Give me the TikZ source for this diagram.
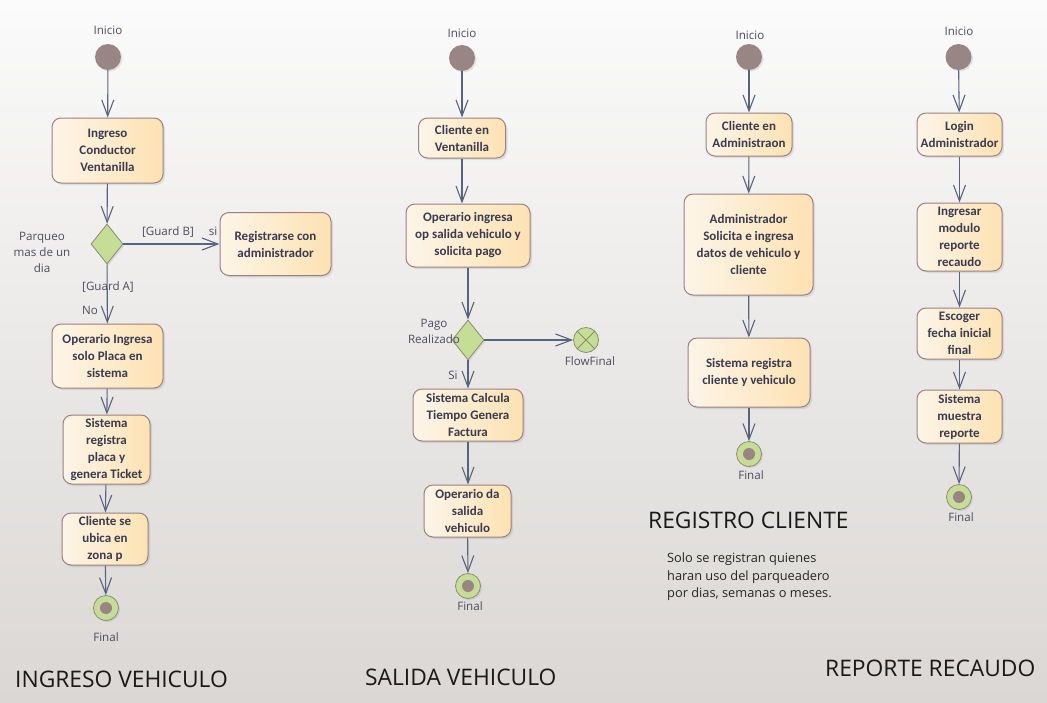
\documentclass[tikz,border=0pt]{standalone}
\usepackage{fontspec}
\setmainfont{Carlito}
\newfontfamily\lblfont{Open Sans}
\usetikzlibrary{arrows.meta,shapes.geometric,shadows}
\definecolor{bgtop}{HTML}{FBFBFB}
\definecolor{bgbot}{HTML}{DAD7D4}
\definecolor{edgec}{HTML}{56647F}
\definecolor{boxb}{HTML}{9C8080}
\definecolor{boxl}{HTML}{FDF5E8}
\definecolor{boxr}{HTML}{FDE2B2}
\definecolor{txtc}{HTML}{3A3A50}
\definecolor{lblc}{HTML}{4C4C60}
\definecolor{initc}{HTML}{9A8585}
\definecolor{greenc}{HTML}{C6DD98}
\definecolor{greenb}{HTML}{8C8C72}
\tikzset{
  act/.style={draw=boxb, line width=1pt, rounded corners=9pt, left color=boxl, right color=boxr,
    font=\fontsize{13}{17}\selectfont\bfseries, text=txtc, align=center, inner sep=0pt,
    drop shadow={shadow xshift=2pt, shadow yshift=-2pt, opacity=0.18}},
  initn/.style={circle, fill=initc, minimum size=26pt, inner sep=0pt,
    drop shadow={shadow xshift=1.5pt, shadow yshift=-1.5pt, opacity=0.18}},
  finn/.style={circle, draw=greenb, line width=0.8pt, fill=greenc, minimum size=25pt, inner sep=0pt,
    path picture={\fill[initc] (path picture bounding box.center) circle (6pt);},
    drop shadow={shadow xshift=1.5pt, shadow yshift=-1.5pt, opacity=0.18}},
  flowfin/.style={circle, draw=greenb, line width=0.8pt, fill=greenc, minimum size=25pt, inner sep=0pt,
    path picture={\draw[greenb, line width=0.9pt]
      (path picture bounding box.north west) -- (path picture bounding box.south east)
      (path picture bounding box.north east) -- (path picture bounding box.south west);}},
  decn/.style={diamond, draw=greenb, line width=0.8pt, fill=greenc, minimum width=32pt,
    minimum height=40pt, inner sep=0pt, shape aspect=0.8,
    drop shadow={shadow xshift=1.5pt, shadow yshift=-1.5pt, opacity=0.18}},
  flow/.style={draw=edgec, line width=1.1pt, -{Straight Barb[length=16pt,width=12pt,line width=1.1pt]}},
  lbl/.style={font=\lblfont\fontsize{11.6}{16}\selectfont, text=lblc, inner sep=0pt, align=center},
  ttl/.style={font=\lblfont\fontsize{22.8}{26}\selectfont, text=black!90, inner sep=0pt, anchor=west},
  note/.style={font=\lblfont\fontsize{12.8}{17.5}\selectfont, text=black!85, inner sep=0pt, align=left, anchor=north west}
}
\begin{document}
\begin{tikzpicture}[x=1pt,y=-1pt]
\shade[top color=bgtop, bottom color=bgbot] (0,0) rectangle (1047,702);
\useasboundingbox (0,0) rectangle (1047,702);

% ---------- INGRESO VEHICULO ----------
\node[lbl] (l1s) at (108,30) {Inicio};
\node[initn] (s1) at (108,57) {};
\node[act, minimum width=111pt, minimum height=65pt] (a1) at (107.5,150.5) {Ingreso\\Conductor\\Ventanilla};
\node[decn] (d1) at (107,244) {};
\node[act, minimum width=111pt, minimum height=63pt] (a2) at (275.5,244) {Registrarse con\\administrador};
\node[act, minimum width=111pt, minimum height=64pt] (a3) at (107.5,356) {Operario Ingresa\\solo Placa en\\sistema};
\node[act, minimum width=87pt, minimum height=69pt] (a4) at (106.5,449.5) {Sistema\\registra\\placa y\\genera Ticket};
\node[act, minimum width=86pt, minimum height=52pt] (a5) at (105,539) {Cliente se\\ubica en\\zona p};
\node[finn] (f1) at (106,608) {};
\node[lbl] (l1f) at (106,637) {Final};
\node[lbl] (l1p) at (42,252) {Parqueo\\mas de un\\dia};
\node[lbl] (l1gb) at (168,232) {[Guard B]};
\node[lbl] (l1si) at (213,231) {si};
\node[lbl] (l1ga) at (108,287) {[Guard A]};
\node[lbl] (l1no) at (90,310) {No};
\node[ttl] (t1) at (15,679) {INGRESO VEHICULO};

\draw[flow] (s1) -- (a1);
\draw[flow] (a1) -- (d1);
\draw[flow] (d1.east) -- (d1.east -| a2.west);
\draw[flow] (d1) -- (a3);
\draw[flow] (a3) -- (a4);
\draw[flow] (a4) -- (a5);
\draw[flow] (a5) -- (f1);

% ---------- SALIDA VEHICULO ----------
\node[lbl] (l2s) at (462,33) {Inicio};
\node[initn] (s2) at (462,58) {};
\node[act, minimum width=87pt, minimum height=40pt] (b1) at (462,138) {Cliente en\\Ventanilla};
\node[act, minimum width=124pt, minimum height=63pt] (b2) at (468,235.5) {Operario ingresa\\op salida vehiculo y\\solicita pago};
\node[decn] (d2) at (468,340) {};
\node[flowfin] (ff2) at (586,340) {};
\node[lbl] (l2ff) at (590,361) {FlowFinal};
\node[lbl] (l2p) at (434,331) {Pago\\Realizado};
\node[lbl] (l2si) at (453,375) {Si};
\node[act, minimum width=110pt, minimum height=52pt] (b3) at (468,415) {Sistema Calcula\\Tiempo Genera\\Factura};
\node[act, minimum width=87pt, minimum height=52pt] (b4) at (467.5,511) {Operario da\\salida\\vehiculo};
\node[finn] (f2) at (468,586) {};
\node[lbl] (l2f) at (470,606) {Final};
\node[ttl] (t2) at (365,677) {SALIDA VEHICULO};

\draw[flow] (s2) -- (b1);
\draw[flow] (b1) -- (b1 |- b2.north);
\draw[flow] (b2) -- (d2);
\draw[flow] (d2) -- (ff2);
\draw[flow] (d2) -- (b3);
\draw[flow] (b3) -- (b3 |- b4.north);
\draw[flow] (b4) -- (f2);

% ---------- REGISTRO CLIENTE ----------
\node[lbl] (l3s) at (750,35) {Inicio};
\node[initn] (s3) at (749,57) {};
\node[act, minimum width=86pt, minimum height=43pt] (c1) at (749,134.5) {Cliente en\\Administraon};
\node[act, minimum width=129pt, minimum height=101pt] (c2) at (748.5,244.5) {Administrador\\Solicita e ingresa\\datos de vehiculo y\\cliente};
\node[act, minimum width=122pt, minimum height=69pt] (c3) at (749,372.5) {Sistema registra\\cliente y vehiculo};
\node[finn] (f3) at (749,454) {};
\node[lbl] (l3f) at (751,475) {Final};
\node[ttl] (t3) at (648,520) {REGISTRO CLIENTE};
\node[note] (n3) at (667,553) {Solo se registran quienes\\haran uso del parqueadero\\por dias, semanas o meses.};

\draw[flow] (s3) -- (c1);
\draw[flow] (c1) -- (c2);
\draw[flow] (c2) -- (c3);
\draw[flow] (c3) -- (f3);

% ---------- REPORTE RECAUDO ----------
\node[lbl] (l4s) at (959,31) {Inicio};
\node[initn] (s4) at (958.5,57) {};
\node[act, minimum width=85pt, minimum height=43pt] (e1) at (959.5,134.5) {Login\\Administrador};
\node[act, minimum width=85pt, minimum height=68pt] (e2) at (959.5,237) {Ingresar\\modulo\\reporte\\recaudo};
\node[act, minimum width=85pt, minimum height=51pt] (e3) at (959.5,333.5) {Escoger\\fecha inicial\\final};
\node[act, minimum width=85pt, minimum height=53pt] (e4) at (959.5,416.5) {Sistema\\muestra\\reporte};
\node[finn] (f4) at (959,497) {};
\node[lbl] (l4f) at (961,517) {Final};
\node[ttl] (t4) at (825,668) {REPORTE RECAUDO};

\draw[flow] (s4) -- (e1);
\draw[flow] (e1) -- (e2);
\draw[flow] (e2) -- (e3);
\draw[flow] (e3) -- (e4);
\draw[flow] (e4) -- (f4);
\end{tikzpicture}
\end{document}
